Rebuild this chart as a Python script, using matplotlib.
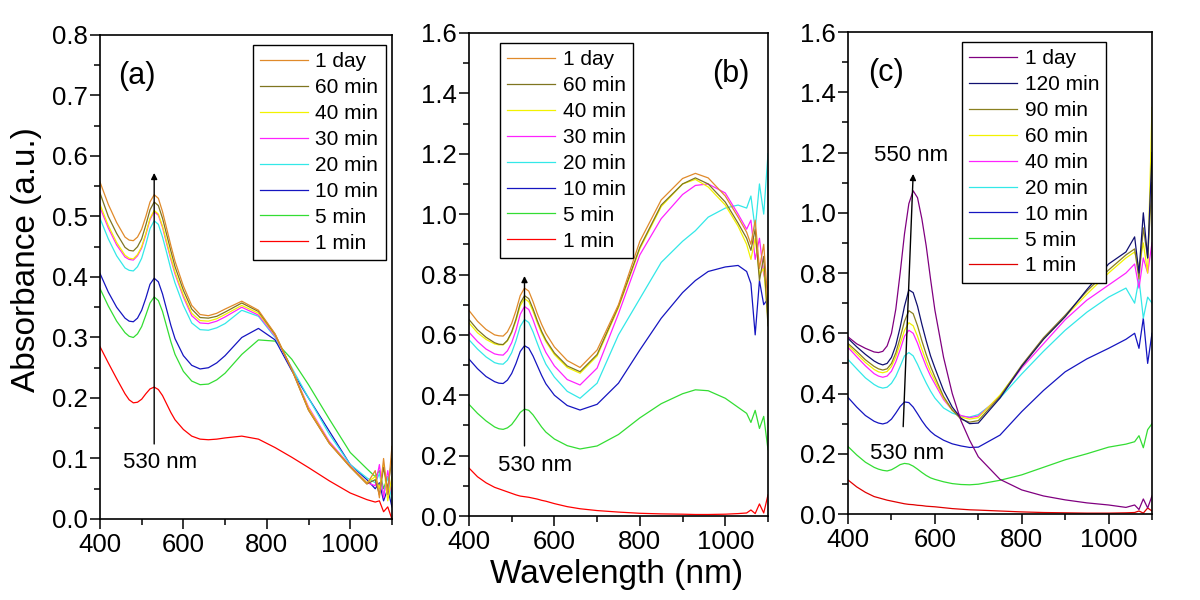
import matplotlib
matplotlib.use("Agg")
import matplotlib.pyplot as plt
from matplotlib.ticker import MultipleLocator

plt.rcParams['font.family'] = ['Liberation Sans', 'DejaVu Sans']

# ---------------- panel (a) ----------------
wl_a = [400, 420, 440, 460, 470, 480, 490, 500, 510, 520, 530, 540, 550, 560, 570, 580, 600,
        620, 640, 660, 680, 700, 740, 780, 820, 860, 900, 950, 1000, 1040, 1060, 1070, 1080,
        1090, 1100]
labels_a = ["1 min", "5 min", "10 min", "20 min", "30 min", "40 min", "60 min", "1 day"]
a_1min = [.285, .258, .232, .207, .197, .192, .193, .198, .207, .215, .218, .214, .204, .19, .176,
          .164, .148, .137, .132, .131, .132, .134, .137, .132, .118, .102, .085, .063, .043,
          .032, .028, .03, .012, .02, .0]
a_5min = [.381, .352, .327, .308, .302, .30, .306, .318, .337, .357, .367, .361, .343, .318, .293,
          .272, .244, .228, .222, .223, .23, .241, .272, .296, .294, .264, .222, .165, .11,
          .083, .07, .08, .05, .07, .045]
a_10min = [.406, .375, .35, .332, .327, .326, .332, .345, .365, .388, .398, .392, .372, .346, .32,
           .298, .27, .254, .248, .25, .258, .27, .3, .315, .296, .245, .2, .145, .09,
           .065, .05, .06, .03, .05, .02]
a_20min = [.497, .463, .435, .415, .411, .41, .417, .431, .454, .48, .493, .487, .466, .44, .413,
           .39, .353, .324, .313, .312, .316, .323, .345, .335, .3, .25, .2, .14, .09,
           .068, .06, .075, .04, .07, .03]
a_30min = [.515, .481, .453, .433, .429, .428, .435, .448, .47, .495, .508, .502, .482, .455, .429,
           .405, .367, .336, .324, .323, .327, .334, .35, .337, .302, .248, .185, .128, .088,
           .06, .055, .09, .035, .08, .04]
a_40min = [.52, .485, .457, .436, .431, .43, .437, .45, .472, .497, .51, .504, .484, .458, .432,
           .408, .37, .34, .328, .327, .331, .338, .353, .34, .304, .248, .183, .126, .087,
           .06, .07, .05, .09, .03, .07]
a_60min = [.539, .5, .472, .449, .444, .443, .45, .463, .486, .511, .524, .518, .497, .47, .443,
           .417, .378, .347, .333, .332, .335, .342, .357, .343, .305, .247, .18, .125, .086,
           .058, .065, .04, .085, .05, .1]
a_1day = [.557, .52, .49, .466, .461, .46, .466, .479, .5, .524, .536, .53, .508, .48, .452,
          .426, .385, .353, .338, .336, .34, .347, .36, .345, .306, .247, .18, .125, .086,
          .058, .08, .035, .1, .04, .12]
series_a = [a_1min, a_5min, a_10min, a_20min, a_30min, a_40min, a_60min, a_1day]

# ---------------- panel (b) ----------------
wl_b = [400, 420, 440, 460, 470, 480, 490, 500, 510, 520, 530, 540, 550, 560, 570, 580, 600,
        630, 660, 700, 750, 800, 850, 900, 930, 960, 1000, 1030, 1050, 1060, 1070, 1080, 1090, 1100]
labels_b = ["1 min", "5 min", "10 min", "20 min", "30 min", "40 min", "60 min", "1 day"]
b_1min = [.159, .13, .11, .095, .09, .085, .08, .075, .07, .066, .064, .062, .059, .056, .052,
          .049, .041, .031, .024, .018, .013, .009, .007, .006, .005, .005, .006, .008, .01,
          .02, .008, .04, .01, .07]
b_5min = [.37, .34, .315, .295, .289, .287, .292, .303, .322, .343, .354, .35, .335, .315, .295,
          .278, .255, .233, .222, .232, .27, .325, .372, .405, .418, .415, .39, .36, .34,
          .31, .35, .29, .33, .22]
b_10min = [.52, .488, .462, .445, .44, .439, .45, .472, .505, .545, .564, .556, .53, .498, .466,
           .438, .4, .366, .351, .37, .44, .55, .655, .74, .78, .81, .825, .83, .81,
           .77, .6, .78, .7, .72]
b_20min = [.584, .553, .527, .508, .504, .503, .516, .541, .58, .628, .651, .641, .61, .572, .535,
           .503, .46, .413, .39, .44, .6, .72, .84, .91, .945, .99, 1.02, 1.03, 1.02,
           1.06, .95, 1.1, 1.0, 1.2]
b_30min = [.609, .578, .553, .537, .534, .533, .547, .574, .615, .668, .694, .684, .65, .61, .573,
           .542, .497, .452, .434, .49, .67, .865, .985, 1.065, 1.095, 1.1, 1.07, 1.0, .95,
           .98, .85, .92, .8, .75]
b_40min = [.64, .607, .585, .57, .567, .567, .58, .607, .647, .697, .72, .71, .678, .64, .606,
           .578, .535, .492, .473, .53, .69, .885, 1.025, 1.1, 1.115, 1.09, 1.03, .96, .9,
           .85, .92, .8, .82, .65]
b_60min = [.651, .617, .592, .574, .569, .568, .582, .61, .652, .705, .73, .72, .686, .647, .612,
           .583, .54, .497, .478, .535, .695, .89, 1.03, 1.1, 1.12, 1.1, 1.04, .97, .92,
           .88, .95, .78, .86, .63]
b_1day = [.681, .645, .618, .6, .597, .596, .61, .638, .68, .73, .755, .745, .71, .67, .635,
          .605, .56, .515, .492, .55, .70, .91, 1.047, 1.118, 1.135, 1.12, 1.06, .99, .94,
          .9, .98, .82, .9, .7]
series_b = [b_1min, b_5min, b_10min, b_20min, b_30min, b_40min, b_60min, b_1day]

# ---------------- panel (c) ----------------
wl_c = [400, 420, 440, 460, 470, 480, 490, 500, 510, 520, 530, 540, 550, 560, 570, 580, 590,
        600, 620, 640, 660, 680, 700, 750, 800, 850, 900, 950, 1000, 1040, 1060, 1070, 1080,
        1090, 1100]
labels_c = ["1 min", "5 min", "10 min", "20 min", "40 min", "60 min", "90 min", "120 min", "1 day"]
c_1min = [.113, .09, .072, .058, .054, .05, .046, .043, .04, .037, .034, .032, .031, .029, .028,
          .026, .025, .024, .021, .018, .016, .014, .013, .01, .007, .005, .004, .003, .003,
          .004, .005, .01, .003, .02, .01]
c_5min = [.224, .196, .172, .155, .149, .145, .143, .147, .155, .164, .168, .166, .159, .149, .138,
          .128, .12, .115, .107, .101, .098, .097, .099, .112, .13, .155, .18, .2, .222,
          .232, .24, .26, .22, .28, .3]
c_10min = [.387, .355, .327, .308, .302, .299, .303, .315, .335, .357, .372, .37, .355, .333, .31,
           .29, .274, .262, .245, .233, .226, .221, .222, .262, .34, .41, .472, .515, .55,
           .58, .6, .55, .65, .5, .6]
c_20min = [.513, .482, .452, .43, .422, .418, .421, .434, .457, .49, .525, .536, .525, .497, .465,
           .435, .408, .385, .352, .335, .325, .322, .33, .385, .465, .54, .61, .67, .72,
           .75, .7, .78, .65, .72, .7]
c_40min = [.553, .522, .492, .466, .458, .454, .458, .474, .505, .545, .59, .61, .6, .567, .527,
           .49, .458, .432, .38, .345, .327, .32, .325, .39, .485, .565, .645, .71, .76,
           .8, .83, .75, .85, .8, .9]
c_60min = [.56, .532, .503, .48, .472, .469, .473, .49, .522, .565, .61, .635, .625, .59, .547,
           .507, .472, .443, .385, .345, .322, .315, .32, .395, .49, .58, .655, .73, .8,
           .85, .87, .82, .9, .8, 1.35]
c_90min = [.566, .54, .512, .49, .482, .478, .482, .5, .535, .585, .64, .675, .665, .625, .575,
           .53, .49, .455, .39, .345, .315, .305, .31, .39, .494, .585, .66, .74, .81,
           .86, .88, .78, .95, .85, 1.1]
c_120min = [.583, .555, .53, .508, .5, .495, .5, .52, .56, .62, .69, .744, .735, .69, .63,
            .575, .525, .485, .41, .355, .318, .3, .302, .385, .49, .58, .655, .745, .83,
            .87, .92, .8, 1.0, .85, 1.2]
c_1day = [.588, .565, .55, .538, .536, .54, .558, .6, .68, .8, .93, 1.03, 1.073, 1.05, .98,
          .89, .78, .677, .52, .40, .31, .245, .19, .115, .08, .06, .047, .037, .03,
          .022, .03, .015, .05, .02, .06]
series_c = [c_1min, c_5min, c_10min, c_20min, c_40min, c_60min, c_90min, c_120min, c_1day]

colors_ab = ['#FF0000', '#33DD33', '#1515C0', '#33E8E8', '#FF22FF', '#F2F200', '#7F7520', '#E08A2A']
colors_c = ['#E00000', '#33DD33', '#1515C0', '#33E8E8', '#FF22FF', '#F2F200', '#8A8020', '#101070', '#800080']

fig = plt.figure(figsize=(12, 6), dpi=100)
ax_a = fig.add_axes([0.0833, 0.135, 0.2433, 0.8067])
ax_b = fig.add_axes([0.3908, 0.14, 0.2492, 0.805])
ax_c = fig.add_axes([0.7067, 0.1433, 0.2533, 0.8033])


def style(ax, ymax, ymaj):
    ax.set_xlim(400, 1100)
    ax.set_ylim(0, ymax)
    ax.xaxis.set_major_locator(MultipleLocator(200))
    ax.xaxis.set_minor_locator(MultipleLocator(100))
    ax.yaxis.set_major_locator(MultipleLocator(ymaj))
    ax.yaxis.set_minor_locator(MultipleLocator(ymaj / 2))
    ax.yaxis.set_major_formatter(plt.FormatStrFormatter('%.1f'))
    ax.tick_params(which='both', direction='out', top=False, right=False, width=1.1,
                   labelsize=18.5)
    ax.tick_params(which='major', length=7)
    ax.tick_params(which='minor', length=4)
    ax.tick_params(axis='y', pad=2)
    ax.tick_params(axis='x', pad=3)
    for s in ax.spines.values():
        s.set_linewidth(1.2)


def draw(ax, wl, series, labels, colors, anchor):
    handles = []
    for vals, lab, col in zip(series, labels, colors):
        h, = ax.plot(wl, vals, color=col, lw=0.9, label=lab)
        handles.append(h)
    leg = ax.legend(handles[::-1], labels[::-1], loc='upper left', bbox_to_anchor=anchor,
                    borderaxespad=0, fontsize=15, frameon=True, fancybox=False,
                    edgecolor='black', framealpha=1, handlelength=2.3,
                    handletextpad=0.35, labelspacing=0.33, borderpad=0.35)
    leg.get_frame().set_linewidth(1.0)


draw(ax_a, wl_a, series_a, labels_a, colors_ab, (0.524, 0.979))
draw(ax_b, wl_b, series_b, labels_b, colors_ab, (0.104, 0.979))
draw(ax_c, wl_c, series_c, labels_c, colors_c, (0.375, 0.979))
style(ax_a, 0.8, 0.1)
style(ax_b, 1.6, 0.2)
style(ax_c, 1.6, 0.2)

arrow = dict(arrowstyle='-|>', color='black', lw=1.0, mutation_scale=9, shrinkA=0, shrinkB=0)
ax_a.annotate('', xy=(530, 0.572), xytext=(530, 0.124), arrowprops=arrow)
ax_a.text(544, 0.093, '530 nm', fontsize=16, ha='center', va='center')
ax_b.annotate('', xy=(530, 0.795), xytext=(530, 0.232), arrowprops=arrow)
ax_b.text(555, 0.166, '530 nm', fontsize=16, ha='center', va='center')
ax_c.annotate('', xy=(550, 1.129), xytext=(527, 0.29), arrowprops=arrow)
ax_c.text(537, 0.202, '530 nm', fontsize=16, ha='center', va='center')
ax_c.text(546, 1.19, '550 nm', fontsize=16, ha='center', va='center')

ax_a.text(0.125, 0.915, '(a)', transform=ax_a.transAxes, fontsize=22, ha='center', va='center')
ax_b.text(0.875, 0.915, '(b)', transform=ax_b.transAxes, fontsize=22, ha='center', va='center')
ax_c.text(0.125, 0.915, '(c)', transform=ax_c.transAxes, fontsize=22, ha='center', va='center')

fig.text(0.0225, 0.567, 'Absorbance (a.u.)', rotation=90, fontsize=24, ha='center', va='center')
fig.text(0.514, 0.042, 'Wavelength (nm)', fontsize=24, ha='center', va='center')

fig.savefig('out.png', dpi=100, facecolor='white')
